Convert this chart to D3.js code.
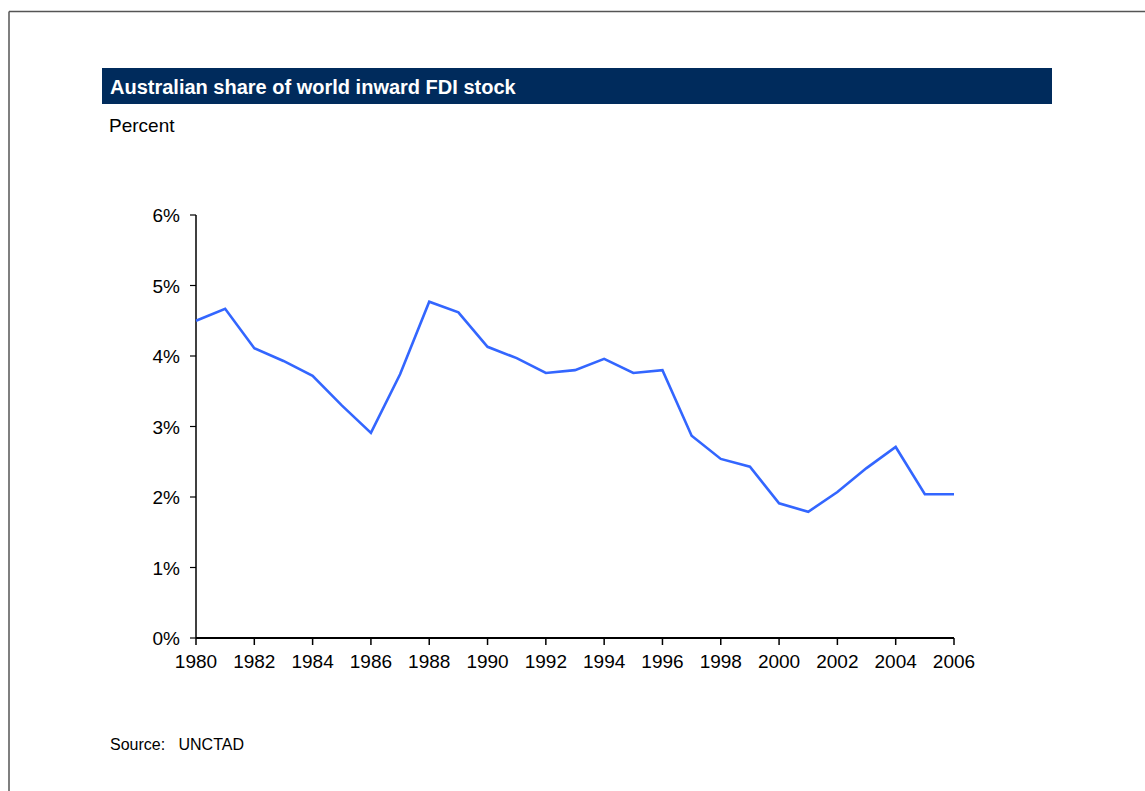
<!DOCTYPE html>
<html>
<head>
<meta charset="utf-8">
<script src="https://cdn.jsdelivr.net/npm/d3@7"></script>
<style>
  body { margin: 0; background: #fff; }
  svg text { font-family: Arial, "Liberation Sans", sans-serif; }
</style>
</head>
<body>
<div id="chart"></div>
<script>
// ---------- data ----------
var years = d3.range(1980, 2007);
var share = [4.50, 4.67, 4.11, 3.93, 3.72, 3.30, 2.91, 3.74, 4.77, 4.62,
             4.13, 3.97, 3.76, 3.80, 3.96, 3.76, 3.80, 2.87, 2.54, 2.43,
             1.91, 1.79, 2.07, 2.41, 2.71, 2.04, 2.04];
var yTicks = [0, 1, 2, 3, 4, 5, 6];
var xTicks = d3.range(1980, 2007, 2);

var width = 1145, height = 791;

var svg = d3.select("#chart").append("svg")
    .attr("width", width)
    .attr("height", height);

// frame (top + left only)
svg.append("path")
    .attr("d", "M9,11.5H" + width + "M9,11.5V" + height)
    .style("fill", "none")
    .style("stroke", "#555")
    .style("stroke-width", 1.5);

// title bar
svg.append("rect")
    .attr("x", 102).attr("y", 68)
    .attr("width", 950).attr("height", 36)
    .style("fill", "#002b5c");

function label(x, y, txt, size, opts) {
    opts = opts || {};
    return svg.append("text")
        .attr("x", x).attr("y", y)
        .attr("text-anchor", opts.anchor || "start")
        .style("font-size", size + "px")
        .style("font-weight", opts.bold ? "bold" : "normal")
        .style("fill", opts.fill || "#000")
        .text(txt);
}

label(110, 94, "Australian share of world inward FDI stock", 20, {bold: true, fill: "#fff"});
label(109, 132, "Percent", 19);
label(110, 750, "Source:\u00a0\u00a0 UNCTAD", 16);

// ---------- scales ----------
var x = d3.scaleLinear().domain([1980, 2006]).range([196, 954]);
var y = d3.scaleLinear().domain([0, 6]).range([638, 215]);

// y axis
svg.append("line")
    .attr("x1", x(1980)).attr("x2", x(1980))
    .attr("y1", y(6)).attr("y2", y(0))
    .style("stroke", "#000").style("stroke-width", 1.5);

yTicks.forEach(function(t) {
    svg.append("line")
        .attr("x1", x(1980) - 6).attr("x2", x(1980))
        .attr("y1", y(t)).attr("y2", y(t))
        .style("stroke", "#000").style("stroke-width", 1.2);
    label(180, y(t) + 7, t + "%", 19, {anchor: "end"});
});

// x axis
svg.append("line")
    .attr("x1", x(1980)).attr("x2", x(2006))
    .attr("y1", y(0)).attr("y2", y(0))
    .style("stroke", "#000").style("stroke-width", 2);

xTicks.forEach(function(t) {
    svg.append("line")
        .attr("x1", x(t)).attr("x2", x(t))
        .attr("y1", y(0)).attr("y2", y(0) + 7)
        .style("stroke", "#000").style("stroke-width", 1.5);
    label(x(t), 668, t, 19, {anchor: "middle"});
});

// ---------- line ----------
var line = d3.line()
    .x(function(d, i) { return x(years[i]); })
    .y(function(d) { return y(d); });

svg.append("path")
    .datum(share)
    .attr("d", line)
    .style("fill", "none")
    .style("stroke", "#3366ff")
    .style("stroke-width", 2.6)
    .style("stroke-linejoin", "miter");
</script>
</body>
</html>
